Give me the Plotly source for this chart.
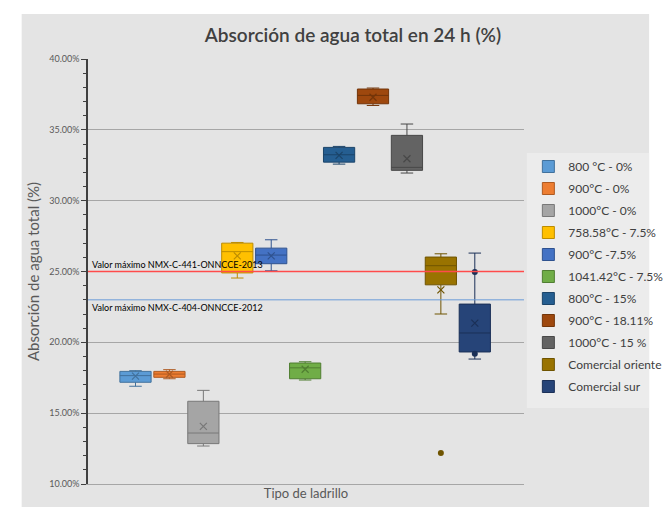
import plotly.graph_objects as go

series_names = ["800 °C - 0%", "900°C - 0%", "1000°C - 0%", "758.58°C - 7.5%", "900°C -7.5%",
                "1041.42°C - 7.5%", "800°C - 15%", "900°C - 18.11%", "1000°C - 15 %",
                "Comercial oriente", "Comercial sur"]
lower_whisker = [16.90, 17.43, 12.68, 24.54, 25.05, 17.34, 32.58, 36.72, 31.95, 22.00, 18.82]
q1_values     = [17.18, 17.53, 12.85, 24.90, 25.55, 17.43, 32.72, 36.84, 32.14, 24.06, 19.32]
median_values = [17.65, 17.76, 13.60, 26.40, 26.16, 18.20, 33.24, 37.43, 32.35, 25.41, 20.66]
q3_values     = [17.95, 17.95, 15.84, 27.00, 26.65, 18.54, 33.76, 37.88, 34.61, 26.02, 22.70]
upper_whisker = [18.00, 18.07, 16.61, 27.05, 27.24, 18.63, 33.83, 37.95, 35.41, 26.25, 26.30]
mean_values   = [17.62, 17.75, 14.07, 26.10, 26.10, 18.10, 33.20, 37.30, 32.96, 23.70, 21.36]
# extra points shown (outlier / inner points): (series index, value)
extra_point_series = [9, 10, 10]
extra_point_values = [12.19, 24.96, 19.19]

fill_colors = ["#5B9BD5", "#ED7D31", "#A5A5A5", "#FFC000", "#4472C4", "#70AD47",
               "#255E91", "#9E480E", "#636363", "#997300", "#264478"]
line_colors = ["#41719C", "#AE5A21", "#787878", "#BC8C00", "#2F528F", "#507E32",
               "#1B4469", "#733509", "#484848", "#6F5400", "#1B3057"]

limit_441 = 25.0
limit_404 = 23.0
y_ticks = [10, 15, 20, 25, 30, 35, 40]

fig = go.Figure()
for i, name in enumerate(series_names):
    fig.add_trace(go.Box(
        name=name, x=[i + 1],
        q1=[q1_values[i]], median=[median_values[i]], q3=[q3_values[i]],
        lowerfence=[lower_whisker[i]], upperfence=[upper_whisker[i]],
        width=0.92, whiskerwidth=0.4,
        fillcolor=fill_colors[i], line=dict(color=line_colors[i], width=1),
        boxpoints=False, legendgroup=name,
    ))
    fig.add_trace(go.Scatter(
        x=[i + 1], y=[mean_values[i]], mode="markers", showlegend=False, hoverinfo="skip",
        marker=dict(symbol="x-thin-open", size=7, color=line_colors[i],
                    line=dict(color=line_colors[i], width=1.2)),
    ))

fig.add_trace(go.Scatter(
    x=[s + 1 for s in extra_point_series], y=extra_point_values, mode="markers",
    showlegend=False, hoverinfo="skip",
    marker=dict(size=6, color=[line_colors[s] for s in extra_point_series]),
))

L, R, T, B = 80, 132, 51, 31
pw, ph = 672 - L - R, 507 - T - B

def px_x(p):
    return (p - L) / pw

def px_y(p):
    return (507 - B - p) / ph

shapes = [
    dict(type="rect", xref="paper", yref="paper", x0=px_x(10), x1=px_x(672), y0=px_y(507), y1=px_y(6),
         fillcolor="#e4e4e4", line=dict(width=0), layer="below"),
    dict(type="rect", xref="paper", yref="paper", x0=px_x(543), x1=px_x(672), y0=px_y(400), y1=px_y(145),
         fillcolor="#ececec", line=dict(width=0), layer="below"),
    dict(type="line", xref="paper", yref="y", x0=0, x1=1, y0=limit_441, y1=limit_441,
         line=dict(color="#FF4B4B", width=1.5)),
    dict(type="line", xref="paper", yref="y", x0=0, x1=1, y0=limit_404, y1=limit_404,
         line=dict(color="#6A9BD8", width=1)),
]

fig.update_layout(
    width=672, height=507,
    margin=dict(l=L, r=R, t=T, b=B),
    paper_bgcolor="white", plot_bgcolor="#ececec",
    font=dict(family="Lato, Open Sans, sans-serif", color="#595959"),
    title=dict(text="Absorción de agua total en 24 h (%)", x=345 / 672, xanchor="center",
               y=1 - 27 / 507, yanchor="middle",
               font=dict(size=19, color="#404040", family="Lato, sans-serif", weight=600)),
    showlegend=True,
    legend=dict(x=1.01, xanchor="left", y=px_y(144), yanchor="top",
                bgcolor="rgba(0,0,0,0)", font=dict(size=12, color="#404040"),
                tracegroupgap=3, traceorder="grouped", itemwidth=30),
    shapes=shapes,
    annotations=[
        dict(xref="paper", yref="y", x=0.005, y=limit_441, xanchor="left", yanchor="bottom",
             text="Valor máximo NMX-C-441-ONNCCE-2013", showarrow=False,
             font=dict(size=9, color="#000000")),
        dict(xref="paper", yref="y", x=0.005, y=limit_404, xanchor="left", yanchor="top",
             text="Valor máximo NMX-C-404-ONNCCE-2012", showarrow=False,
             font=dict(size=9, color="#000000")),
    ],
)

fig.update_xaxes(range=[-0.4, 12.45], showticklabels=False, showgrid=False, zeroline=False,
                 showline=True, linecolor="#A6A6A6", linewidth=1,
                 title=dict(text="Tipo de ladrillo", font=dict(size=13, color="#595959"), standoff=4))
fig.update_yaxes(range=[10, 40], tickvals=y_ticks, ticktext=[f"{v:.2f}%" for v in y_ticks],
                 tickfont=dict(size=9, color="#595959"),
                 showgrid=True, gridcolor="#A6A6A6", gridwidth=1, zeroline=False,
                 showline=True, linecolor="#404040", linewidth=1.5,
                 ticks="outside", ticklen=5, tickcolor="#404040",
                 minor=dict(dtick=1, ticks="outside", ticklen=3, tickcolor="#404040", showgrid=False),
                 title=dict(text="Absorción de agua total (%)", font=dict(size=15, color="#595959"), standoff=6))

fig.write_html("out.html")
